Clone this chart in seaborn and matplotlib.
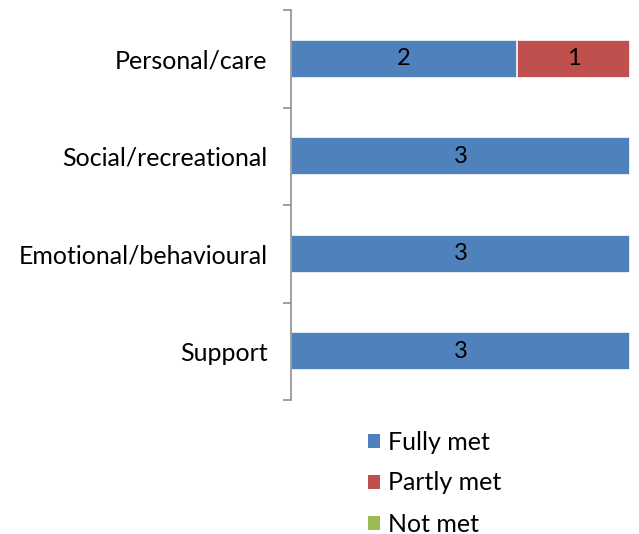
import matplotlib
matplotlib.use("Agg")
import matplotlib.pyplot as plt
import seaborn as sns
import pandas as pd
import numpy as np
from matplotlib.patches import Patch

categories = ["Personal/care", "Social/recreational", "Emotional/behavioural", "Support"]
fully_met = [2, 3, 3, 3]
partly_met = [1, 0, 0, 0]
not_met = [0, 0, 0, 0]

series_names = ["Fully met", "Partly met", "Not met"]
colors = ["#4F81BD", "#C0504D", "#9BBB59"]

sns.set_theme(style="white")
plt.rcParams["font.family"] = ["Lato", "DejaVu Sans"]
plt.rcParams["text.color"] = "black"

df = pd.DataFrame({
    "category": categories,
    "fully": fully_met,
    "partly": partly_met,
    "not": not_met,
})
df["cum1"] = df["fully"]
df["cum2"] = df["fully"] + df["partly"]
df["cum3"] = df["cum2"] + df["not"]

fig = plt.figure(figsize=(6.39, 5.34), dpi=100)
ax = fig.add_axes([291 / 639, 1 - 400 / 534, (630 - 291) / 639, 390 / 534])

bar_w = 0.39
# stacked bars: draw cumulative totals back to front
for col, color in [("cum3", colors[2]), ("cum2", colors[1]), ("cum1", colors[0])]:
    sns.barplot(data=df, y="category", x=col, color=color, orient="h",
                width=bar_w, edgecolor="white", linewidth=1.2, ax=ax,
                saturation=1, zorder=2)

# value labels centred in each segment
for i, cat in enumerate(categories):
    start = 0
    for val in (fully_met[i], partly_met[i], not_met[i]):
        if val > 0:
            ax.text(start + val / 2, i, str(val), ha="center", va="center",
                    fontsize=17, color="black", zorder=5)
        start += val

ax.set_xlim(0, 3)
ax.set_ylim(3.5, -0.5)
ax.set_xlabel("")
ax.set_ylabel("")
ax.set_xticks([])

for side in ("top", "right", "bottom"):
    ax.spines[side].set_visible(False)
ax.spines["left"].set_color("#868686")
ax.spines["left"].set_linewidth(1.1)

ax.set_yticks(range(len(categories)))
ax.set_yticklabels(categories, fontsize=18, color="black")
ax.tick_params(axis="y", which="major", length=0, pad=17)
ax.set_yticks(np.arange(-0.5, len(categories), 1.0), minor=True)
ax.tick_params(axis="y", which="minor", left=True, length=6, width=1.1,
               color="#868686")

handles = [Patch(facecolor=c, edgecolor="none", label=n) for c, n in zip(colors, series_names)]
fig.legend(handles=handles, loc="upper left", bbox_to_anchor=(345 / 639, 1 - 408 / 534),
           frameon=False, fontsize=18, handlelength=0.5, handleheight=0.5,
           handletextpad=0.3, labelspacing=0.72, labelcolor="black")

fig.savefig("out.png", dpi=100)
